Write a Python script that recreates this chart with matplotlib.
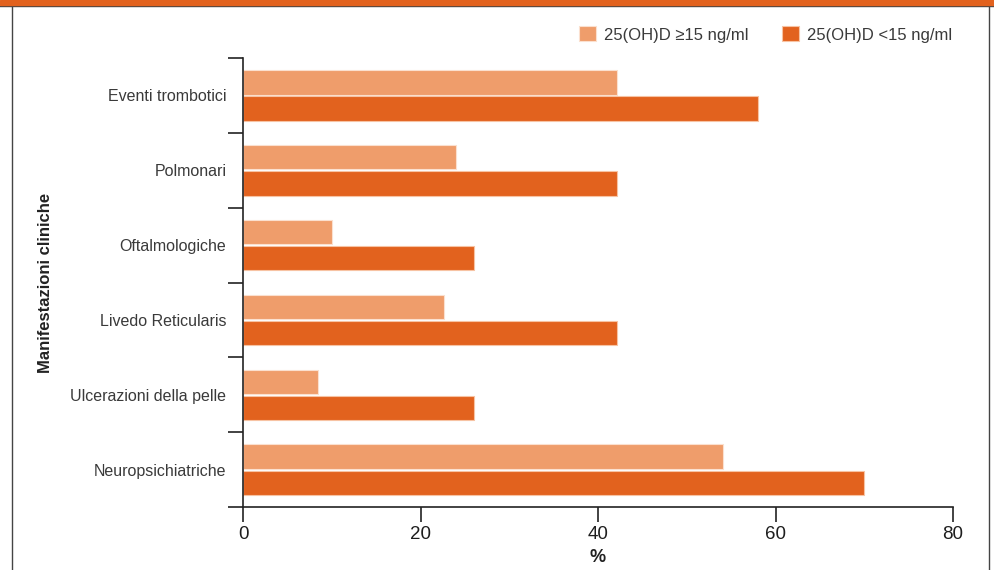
import numpy as np
import matplotlib.pyplot as plt
from matplotlib.patches import Rectangle
from matplotlib.lines import Line2D

plt.rcParams['font.family'] = ['Liberation Sans', 'DejaVu Sans']

categories = ['Eventi trombotici', 'Polmonari', 'Oftalmologiche',
              'Livedo Reticularis', 'Ulcerazioni della pelle', 'Neuropsichiatriche']
high_vitd = [42.1, 24.0, 10.0, 22.6, 8.5, 54.1]   # 25(OH)D >=15 ng/ml
low_vitd = [58.0, 42.1, 26.0, 42.1, 26.0, 70.0]   # 25(OH)D <15 ng/ml
xticks = [0, 20, 40, 60, 80]

light = '#EF9D6B'
dark = '#E2621E'
text_col = '#3a3a3a'

fig = plt.figure(figsize=(9.94, 5.70), dpi=100)
ax = fig.add_axes([0.2445, 0.1105, 0.7143, 0.7877])

y = np.arange(len(categories))
h = 0.325
off = 0.175
ax.barh(y - off, high_vitd, height=h, color=light, edgecolor='#fbe0cf', linewidth=0.8,
        label='25(OH)D \u226515 ng/ml')
ax.barh(y + off, low_vitd, height=h, color=dark, edgecolor='#f7c3a3', linewidth=0.8,
        label='25(OH)D <15 ng/ml')

ax.set_ylim(len(categories) - 0.5, -0.5)
ax.set_xlim(0, 80)
ax.set_xticks(xticks)
ax.set_xticklabels([str(v) for v in xticks], fontsize=13.5, color='#1e1e1e')
ax.set_yticks(y)
ax.set_yticklabels(categories, fontsize=11.5, color=text_col)
ax.set_yticks(np.arange(-0.5, len(categories), 1.0), minor=True)
ax.tick_params(axis='y', which='major', length=0, pad=12)
ax.tick_params(axis='y', which='minor', length=11, width=1.2, color='#222222')
ax.tick_params(axis='x', length=11, width=1.2, color='#222222', pad=3)

for s in ['top', 'right']:
    ax.spines[s].set_visible(False)
for s in ['left', 'bottom']:
    ax.spines[s].set_linewidth(1.2)
    ax.spines[s].set_color('#222222')

ax.set_xlabel('%', fontsize=13, fontweight='bold', color='#222222', labelpad=4)
ax.set_ylabel('Manifestazioni cliniche', fontsize=12, fontweight='bold',
              color='#222222')
ax.yaxis.set_label_coords(-0.268, 0.5)

leg = fig.legend(loc='upper right', bbox_to_anchor=(0.973, 0.98), ncol=2, frameon=False,
                 fontsize=12, handlelength=1.0, handleheight=1.0, handletextpad=0.5,
                 columnspacing=2.0)
for t in leg.get_texts():
    t.set_color(text_col)

# frame of the panel
fig.patches.append(Rectangle((0, 1 - 5 / 570), 1, 5 / 570, transform=fig.transFigure,
                             color=dark, zorder=5))
fig.lines.append(Line2D([0, 1], [1 - 6 / 570] * 2, transform=fig.transFigure,
                        color='#444444', linewidth=1))
fig.lines.append(Line2D([11.5 / 994] * 2, [0, 1 - 6 / 570], transform=fig.transFigure,
                        color='#444444', linewidth=1))
fig.lines.append(Line2D([988.5 / 994] * 2, [0, 1 - 6 / 570], transform=fig.transFigure,
                        color='#444444', linewidth=1))

fig.savefig('out.png', dpi=100)
